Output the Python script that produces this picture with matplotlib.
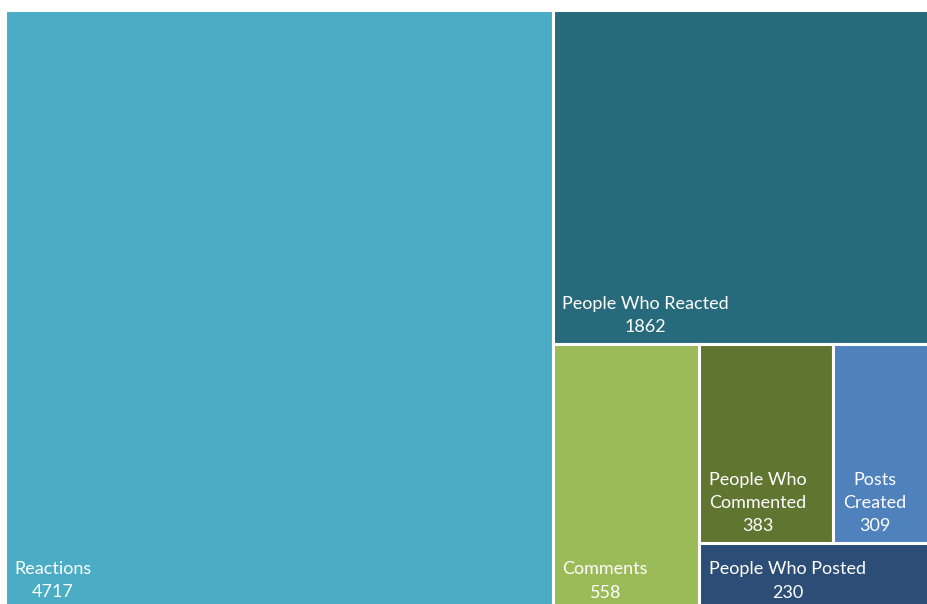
import matplotlib

matplotlib.use("Agg")
import matplotlib.pyplot as plt
from matplotlib.patches import Rectangle

categories = ["Reactions", "People Who Reacted", "Comments",
              "People Who Commented", "Posts Created", "People Who Posted"]
counts = [4717, 1862, 558, 383, 309, 230]
colors = ["#4BACC6", "#276A7C", "#9BBB59", "#5F7530", "#4F81BD", "#2C4D75"]

FONT = "Lato"
FONT_SIZE = 13


def worst(row, length):
    s = sum(row)
    return max(max(length * length * r / (s * s), (s * s) / (length * length * r)) for r in row)


def squarify(values, x, y, w, h):
    total = sum(values)
    vals = [v * w * h / total for v in values]
    rects = []
    while vals:
        length = min(w, h)
        row = [vals[0]]
        i = 1
        while i < len(vals) and worst(row + [vals[i]], length) <= worst(row, length):
            row.append(vals[i])
            i += 1
        s = sum(row)
        if w >= h:
            cw = s / h
            yy = y
            for r in row:
                rh = r / cw
                rects.append((x, yy, cw, rh))
                yy += rh
            x += cw
            w -= cw
        else:
            rh = s / w
            xx = x
            for r in row:
                rw = r / rh
                rects.append((xx, y, rw, rh))
                xx += rw
            y += rh
            h -= rh
        vals = vals[i:]
    return rects


def wrap(text, avail, renderer, ax):
    words = text.split()
    lines = []
    cur = ""
    for word in words:
        trial = (cur + " " + word).strip()
        probe = ax.text(0, 0, trial, fontsize=FONT_SIZE, family=FONT)
        width = probe.get_window_extent(renderer).width
        probe.remove()
        if width <= avail or not cur:
            cur = trial
        else:
            lines.append(cur)
            cur = word
    lines.append(cur)
    return "\n".join(lines)


W_PX, H_PX = 937, 600
fig = plt.figure(figsize=(9.28, 6.04), dpi=100)
ax = fig.add_axes([4.5 / 928, (604 - 9.5 - H_PX) / 604, W_PX / 928, H_PX / 604])
ax.set_xlim(0, W_PX)
ax.set_ylim(H_PX, 0)
ax.axis("off")
renderer = fig.canvas.get_renderer()

rects = squarify(counts, 0, 0, W_PX, H_PX)
for (x, y, w, h), name, value, color in zip(rects, categories, counts, colors):
    ax.add_patch(Rectangle((x, y), w, h, facecolor=color, edgecolor="white", linewidth=2.2))
    label = wrap(name, w - 18, renderer, ax) + "\n" + str(value)
    ax.annotate(label, xy=(x, y + h), xytext=(9.5, 9), textcoords="offset pixels",
                ha="left", va="bottom", multialignment="center", color="white",
                fontsize=FONT_SIZE, family=FONT, linespacing=1.55)

fig.savefig("out.png", dpi=100)
